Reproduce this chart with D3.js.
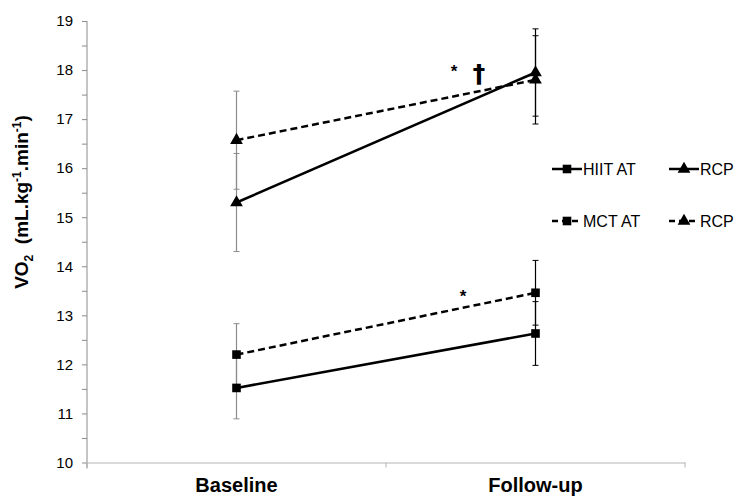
<!DOCTYPE html>
<html>
<head>
<meta charset="utf-8">
<script src="https://cdn.jsdelivr.net/npm/d3@7"></script>
<style>
  body { margin: 0; background: #fff; }
  svg { font-family: "Liberation Sans", Arial, sans-serif; }
  text { white-space: pre; }
</style>
</head>
<body>
<svg width="739" height="498"></svg>
<script>
const width = 739;
const height = 498;

// values (mean and SD)
const categories = ['Baseline', 'Follow-up'];
const hiitAT = [11.52, 12.63];
const hiitATsd = [0.63, 0.65];
const mctAT = [12.20, 13.46];
const mctATsd = [0.63, 0.66];
const hiitRCP = [15.30, 17.95];
const hiitRCPsd = [1.00, 0.89];
const mctRCP = [16.57, 17.80];
const mctRCPsd = [1.00, 0.90];
const yTicks = [10, 11, 12, 13, 14, 15, 16, 17, 18, 19];

const series = [
  {name: 'HIIT AT', values: hiitAT, sd: hiitATsd, dash: null, shape: 'square'},
  {name: 'MCT AT', values: mctAT, sd: mctATsd, dash: '7,4', shape: 'square'},
  {name: 'RCP', values: hiitRCP, sd: hiitRCPsd, dash: null, shape: 'triangle'},
  {name: 'RCP', values: mctRCP, sd: mctRCPsd, dash: '7,4', shape: 'triangle'}
];

const svg = d3.select('svg');
const plotLeft = 87, plotRight = 685, plotTop = 21, plotBottom = 462.5;

const x = d3.scaleBand().domain(categories).range([plotLeft, plotRight]);
const y = d3.scaleLinear().domain([10, 19]).range([plotBottom, plotTop]);
const cx = d => x(d) + x.bandwidth() / 2;

const symbolFor = s => s === 'square'
  ? d3.symbol().type(d3.symbolSquare).size(74)
  : d3.symbol().type(d3.symbolTriangle).size(70);

// y axis
const yAxis = svg.append('g')
    .attr('transform', `translate(${plotLeft},0)`)
    .call(d3.axisLeft(y).tickValues(d3.range(10, 19.01, 0.5)).tickSize(5).tickFormat(d => yTicks.includes(d) ? d : ''));
yAxis.select('.domain').attr('stroke', '#8c8c8c').attr('d', `M0,${plotTop}V${plotBottom + 6}`);
yAxis.selectAll('.tick line').attr('stroke', '#8c8c8c');
yAxis.selectAll('.tick text')
    .attr('x', -14)
    .style('font-size', '15px')
    .attr('fill', '#000');

// x axis
const xAxis = svg.append('g')
    .attr('transform', `translate(0,${plotBottom})`)
    .call(d3.axisBottom(x).tickValues([]).tickSizeOuter(0));
xAxis.select('.domain').attr('stroke', '#b4b4b4');
xAxis.selectAll('.band-tick')
    .data([plotLeft, (plotLeft + plotRight) / 2, plotRight])
    .enter().append('line')
    .attr('x1', d => d).attr('x2', d => d)
    .attr('y1', 0).attr('y2', 5)
    .attr('stroke', '#b4b4b4');
svg.append('g').selectAll('text')
    .data(categories)
    .enter().append('text')
    .attr('x', d => cx(d))
    .attr('y', 492)
    .attr('text-anchor', 'middle')
    .style('font-size', '20px')
    .style('font-weight', 'bold')
    .text(d => d);

// y label
const ylab = svg.append('text')
    .attr('transform', 'translate(28,202) rotate(-90)')
    .attr('text-anchor', 'middle')
    .style('font-size', '19px')
    .style('font-weight', 'bold');
ylab.append('tspan').text('VO');
ylab.append('tspan').attr('dy', 5).style('font-size', '12px').text('2');
ylab.append('tspan').attr('dy', -5).text('  (mL.kg');
ylab.append('tspan').attr('dy', -7).style('font-size', '12px').text('-1');
ylab.append('tspan').attr('dy', 7).text('.min');
ylab.append('tspan').attr('dy', -7).style('font-size', '12px').text('-1');
ylab.append('tspan').attr('dy', 7).text(')');

// error bars
const errs = [];
series.forEach(s => categories.forEach((c, i) => errs.push({c, i, v: s.values[i], sd: s.sd[i]})));
const eg = svg.append('g');
errs.forEach(e => {
  const col = e.i === 0 ? '#8c8c8c' : '#000';
  const xc = cx(e.c);
  eg.append('line').attr('x1', xc).attr('x2', xc)
    .attr('y1', y(e.v - e.sd)).attr('y2', y(e.v + e.sd))
    .attr('stroke', col).attr('stroke-width', 1.2);
  [e.v - e.sd, e.v + e.sd].forEach(v => {
    eg.append('line').attr('x1', xc - 3).attr('x2', xc + 3)
      .attr('y1', y(v)).attr('y2', y(v))
      .attr('stroke', col).attr('stroke-width', 1);
  });
});

// lines
const line = d3.line().x((d, i) => cx(categories[i])).y(d => y(d));
svg.append('g').selectAll('path')
    .data(series)
    .enter().append('path')
    .attr('d', d => line(d.values))
    .attr('fill', 'none')
    .attr('stroke', '#000')
    .attr('stroke-width', 2.5)
    .attr('stroke-dasharray', d => d.dash);

// markers
series.forEach(s => {
  svg.append('g').selectAll('path')
    .data(s.values)
    .enter().append('path')
    .attr('d', symbolFor(s.shape)())
    .attr('transform', (d, i) => `translate(${cx(categories[i])},${y(d)})`)
    .attr('fill', '#000');
});

// significance marks
svg.append('text').attr('x', 454).attr('y', 77).attr('text-anchor', 'middle')
    .style('font-size', '17px').style('font-weight', 'bold').text('*');
svg.append('text').attr('x', 479).attr('y', 82).attr('text-anchor', 'middle')
    .style('font-family', '"DejaVu Sans", sans-serif')
    .style('font-size', '25px').style('font-weight', 'bold').text('\u2020');
svg.append('text').attr('x', 463).attr('y', 302).attr('text-anchor', 'middle')
    .style('font-size', '17px').style('font-weight', 'bold').text('*');

// legend
const legendPos = [
  {x: 552, y: 169}, {x: 552, y: 221}, {x: 669, y: 169}, {x: 669, y: 221}
];
series.forEach((s, i) => {
  const p = legendPos[i];
  const g = svg.append('g').attr('transform', `translate(${p.x},${p.y})`);
  g.append('line').attr('x1', 0).attr('x2', 30).attr('y1', 0).attr('y2', 0)
    .attr('stroke', '#000').attr('stroke-width', 2.5)
    .attr('stroke-dasharray', s.dash ? '6,4' : null);
  g.append('path').attr('d', symbolFor(s.shape)()).attr('transform', 'translate(15,0)').attr('fill', '#000');
  g.append('text').attr('x', 31).attr('y', 6).style('font-size', '16px').text(s.name);
});
</script>
</body>
</html>
